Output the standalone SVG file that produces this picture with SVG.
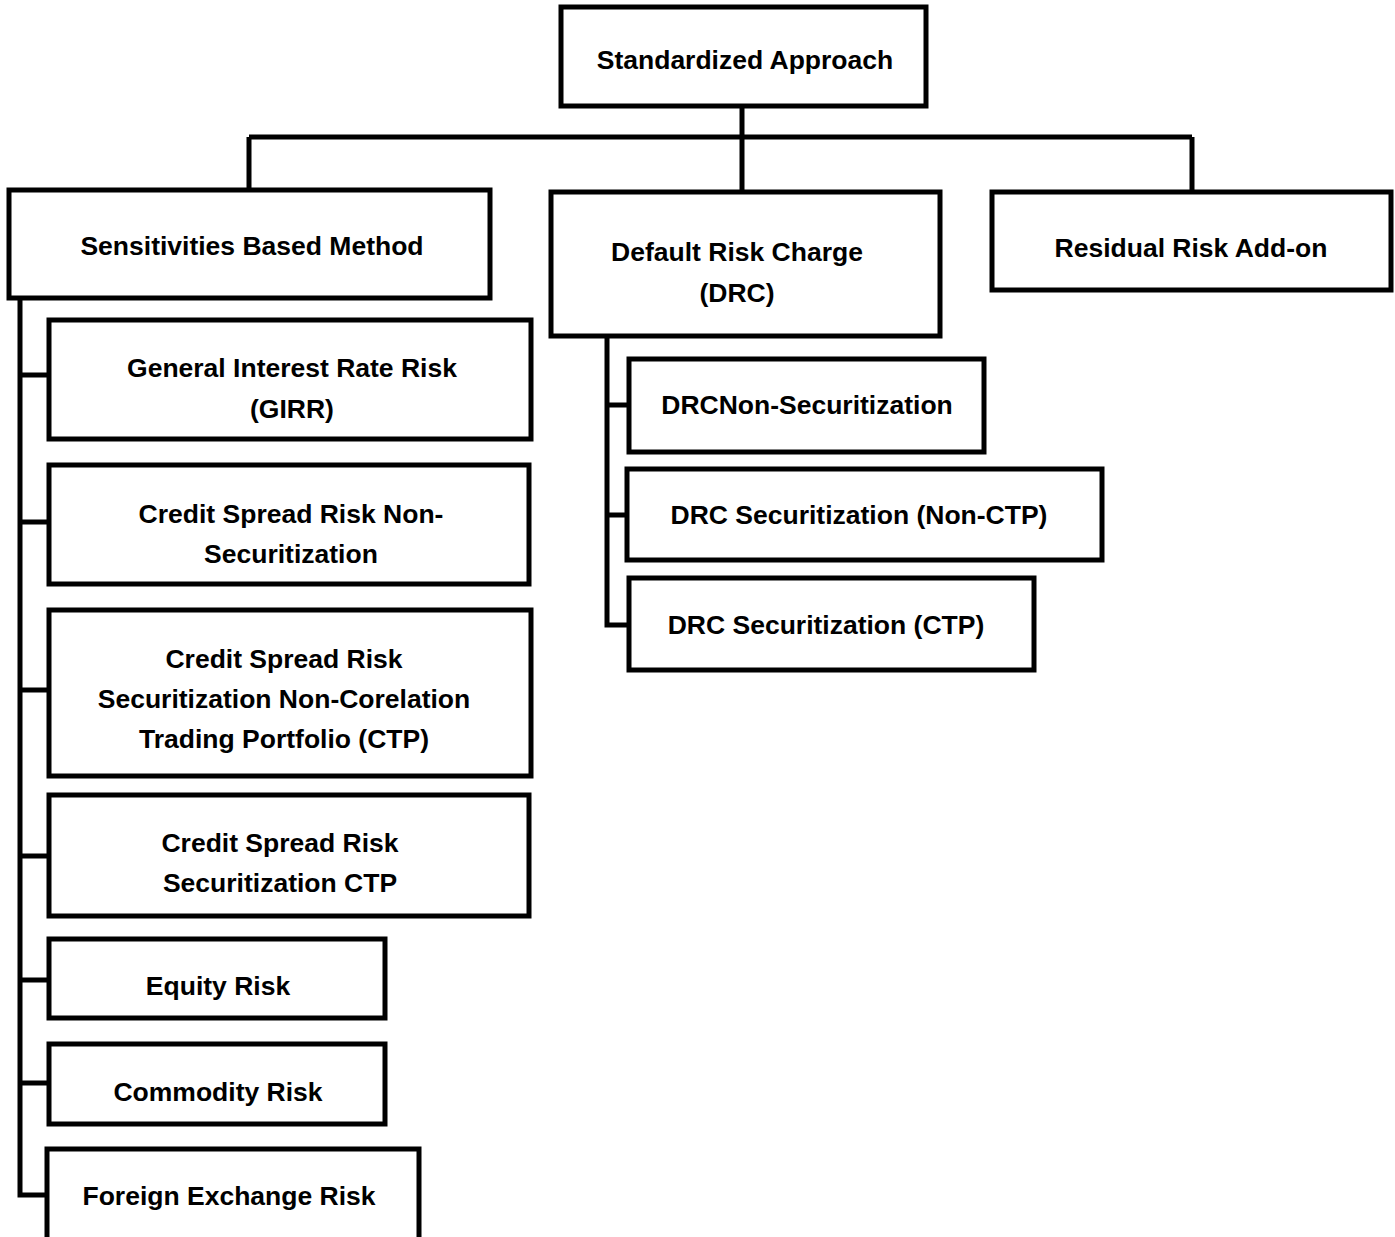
<svg xmlns="http://www.w3.org/2000/svg" width="1395" height="1237" viewBox="0 0 1395 1237">
<style>
.box{fill:#fff;stroke:#000;stroke-width:5}
.t{font-family:"Liberation Sans",Arial,sans-serif;font-weight:bold;font-size:26.5px;fill:#000;text-anchor:middle}
.c{fill:none;stroke:#000;stroke-width:5}
</style>
<rect width="1395" height="1237" fill="#fff"/>
<g id="connectors">
<path class="c" d="M742 108V190M249 137H1192M249 137V188M1192 137V190"/>
<path class="c" d="M20 300V1195H47M20 375H47M20 522H47M20 690H47M20 856H47M20 980H47M20 1083H47"/>
<path class="c" d="M607 338V625H627M607 405H627M607 515H625"/>
</g>
<g id="n-sa"><rect class="box" x="561" y="7" width="365" height="99"/><text class="t" x="745" y="69">Standardized Approach</text></g>
<g id="n-sbm"><rect class="box" x="9" y="190" width="481" height="108"/><text class="t" x="252" y="255">Sensitivities Based Method</text></g>
<g id="n-drc"><rect class="box" x="551" y="192" width="389" height="144"/><text class="t" x="737" y="261">Default Risk Charge</text><text class="t" x="737" y="302">(DRC)</text></g>
<g id="n-rra"><rect class="box" x="992" y="192" width="399" height="98"/><text class="t" x="1191" y="257">Residual Risk Add-on</text></g>
<g id="n-girr"><rect class="box" x="49" y="320" width="482" height="119"/><text class="t" x="292" y="377">General Interest Rate Risk</text><text class="t" x="292" y="418">(GIRR)</text></g>
<g id="n-csrns"><rect class="box" x="49" y="465" width="480" height="119"/><text class="t" x="291" y="523">Credit Spread Risk Non-</text><text class="t" x="291" y="563">Securitization</text></g>
<g id="n-csrsnc"><rect class="box" x="49" y="610" width="482" height="166"/><text class="t" x="284" y="668">Credit Spread Risk</text><text class="t" x="284" y="708">Securitization Non-Corelation</text><text class="t" x="284" y="748">Trading Portfolio (CTP)</text></g>
<g id="n-csrsc"><rect class="box" x="49" y="795" width="480" height="121"/><text class="t" x="280" y="852">Credit Spread Risk</text><text class="t" x="280" y="892">Securitization CTP</text></g>
<g id="n-eq"><rect class="box" x="49" y="939" width="336" height="79"/><text class="t" x="218" y="995">Equity Risk</text></g>
<g id="n-com"><rect class="box" x="49" y="1044" width="336" height="80"/><text class="t" x="218" y="1101">Commodity Risk</text></g>
<g id="n-fx"><rect class="box" x="47" y="1149" width="372" height="100"/><text class="t" x="229" y="1205">Foreign Exchange Risk</text></g>
<g id="n-drcns"><rect class="box" x="629" y="359" width="355" height="93"/><text class="t" x="807" y="414">DRCNon-Securitization</text></g>
<g id="n-drcsn"><rect class="box" x="627" y="469" width="475" height="91"/><text class="t" x="859" y="524">DRC Securitization (Non-CTP)</text></g>
<g id="n-drcsc"><rect class="box" x="629" y="578" width="405" height="92"/><text class="t" x="826" y="634">DRC Securitization (CTP)</text></g>
</svg>
